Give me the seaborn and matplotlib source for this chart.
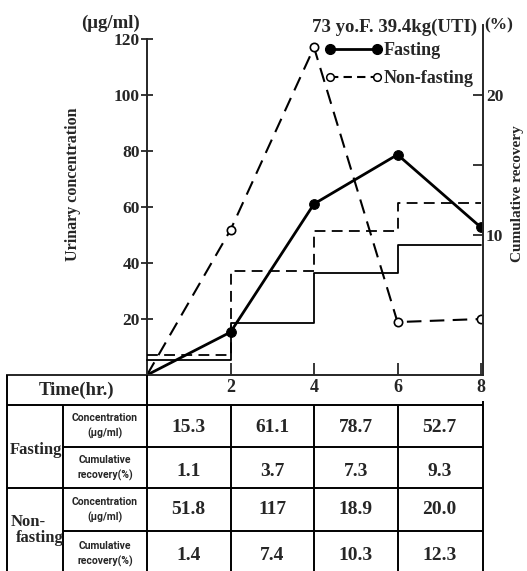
import matplotlib
matplotlib.use("Agg")
import matplotlib.pyplot as plt
import seaborn as sns
from matplotlib.lines import Line2D

# ---------------- data ----------------
time_hr = [0, 2, 4, 6, 8]
fasting_conc = [0, 15.3, 61.1, 78.7, 52.7]
nonfasting_conc = [0, 51.8, 117, 18.9, 20.0]
fasting_cum = [1.1, 3.7, 7.3, 9.3]
nonfasting_cum = [1.4, 7.4, 10.3, 12.3]

left_ticks = [20, 40, 60, 80, 100, 120]
right_ticks = [10, 20]
right_minor = [15]
x_ticks = [2, 4, 6, 8]

table_time_labels = ["2", "4", "6", "8"]
fasting_conc_txt = ["15.3", "61.1", "78.7", "52.7"]
fasting_cum_txt = ["1.1", "3.7", "7.3", "9.3"]
nonfasting_conc_txt = ["51.8", "117", "18.9", "20.0"]
nonfasting_cum_txt = ["1.4", "7.4", "10.3", "12.3"]

# ---------------- style ----------------
sns.set_style("ticks")
plt.rcParams["font.family"] = ["Liberation Serif", "DejaVu Serif"]
plt.rcParams["font.weight"] = "bold"
plt.rcParams["axes.linewidth"] = 1.4

W, H = 527, 571
fig = plt.figure(figsize=(W / 100, H / 100), dpi=100)

px_per_hr = 41.75
x0_px = 147
xl = ((7 - x0_px) / px_per_hr, (483 - x0_px) / px_per_hr)

ax = fig.add_axes([7 / W, (H - 375) / H, 476 / W, 350 / H])
ax.set_xlim(*xl)
ax.set_ylim(0, 125)

# concentration lines (left axis)
sns.lineplot(x=time_hr, y=fasting_conc, ax=ax, color="black", lw=2.0,
             marker="o", markersize=7, markevery=[1, 2, 3, 4],
             markerfacecolor="black", markeredgecolor="black")
sns.lineplot(x=time_hr, y=nonfasting_conc, ax=ax, color="black", lw=1.5,
             linestyle=(0, (7, 4)), marker="o", markersize=6,
             markevery=[1, 2, 3, 4], markerfacecolor="white",
             markeredgecolor="black", markeredgewidth=1.2)

for s in ["top", "right"]:
    ax.spines[s].set_visible(False)
ax.spines["left"].set_position(("data", 0))
ax.spines["left"].set_bounds(0, 120)
ax.set_yticks(left_ticks)
ax.set_yticklabels([str(t) for t in left_ticks])
ax.tick_params(axis="y", direction="inout", length=8, width=1.3,
               labelsize=12.5, pad=1)
ax.set_xticks(x_ticks)
ax.tick_params(axis="x", direction="in", length=9, width=1.3,
               labelbottom=False)
ax.set_ylabel("Urinary concentration", fontsize=11.5, fontweight="bold")
ax.yaxis.set_label_coords((81 - 7) / 476, (375 - 184) / 350)

# cumulative recovery steps (right axis)
ax2 = ax.twinx()
ax2.set_ylim(0, 25)
sns.lineplot(x=time_hr, y=fasting_cum + [fasting_cum[-1]], ax=ax2,
             color="black", lw=1.3, drawstyle="steps-post")
sns.lineplot(x=time_hr, y=nonfasting_cum + [nonfasting_cum[-1]], ax=ax2,
             color="black", lw=1.3, linestyle=(0, (6, 3.5)),
             drawstyle="steps-post")
for s in ["top", "left", "bottom"]:
    ax2.spines[s].set_visible(False)
ax2.set_yticks(right_ticks)
ax2.set_yticks(right_minor, minor=True)
ax2.set_yticklabels([str(t) for t in right_ticks])
ax2.tick_params(axis="y", which="both", direction="in", length=7,
                width=1.3, labelsize=12.5, pad=2)
ax2.set_ylabel("Cumulative recovery", fontsize=11, fontweight="bold")
ax2.yaxis.set_label_coords((511 - 7) / 476, (375 - 194) / 350)

handles = [
    Line2D([], [], color="black", lw=2.0, marker="o", markersize=7,
           markerfacecolor="black"),
    Line2D([], [], color="black", lw=1.5, linestyle=(0, (4, 2.5)),
           marker="o", markersize=5.5, markerfacecolor="white",
           markeredgewidth=1.1),
]
ax2.legend(handles, ["Fasting", "Non-fasting"], loc="upper left",
           bbox_to_anchor=(325 / W, 1 - 42 / H),
           bbox_transform=fig.transFigure, frameon=False, numpoints=2,
           handlelength=3.2, handletextpad=0.05, borderpad=0,
           borderaxespad=0, labelspacing=0.6,
           prop=dict(weight="bold", size=13))

fig.text(477 / W, 1 - 27 / H, "73 yo.F. 39.4kg(UTI)", ha="right",
         va="center", fontsize=13.5, fontweight="bold")
fig.text(484 / W, 1 - 25 / H, "(%)", ha="left", va="center",
         fontsize=12.5, fontweight="bold")
fig.text(111 / W, 1 - 23 / H, "(μg/ml)", ha="center", va="center",
         fontsize=13.5, fontweight="bold")

# ---------------- table ----------------
tab = fig.add_axes([7 / W, 0, 476 / W, 196 / H])
tab.set_xlim(*xl)
tab.set_ylim(196, 0)
tab.axis("off")

sub_x = (63 - x0_px) / px_per_hr
lkw = dict(color="black", lw=1.4, clip_on=False)
tab.hlines([30, 113], xl[0], xl[1], **lkw)
tab.hlines([72, 156], sub_x, xl[1], **lkw)
tab.vlines([xl[0], 0], 0, 196, **lkw)
tab.vlines([xl[1]], 26, 196, **lkw)
tab.vlines([sub_x] + x_ticks[:-1], 30, 196, **lkw)

tab.text((77 - x0_px) / px_per_hr, 15, "Time(hr.)", ha="center",
         va="center", fontsize=13.5, fontweight="bold")
for t, lab in zip(x_ticks, table_time_labels):
    tab.text(t, 12, lab, ha="center", va="center", fontsize=13,
             fontweight="bold")

tab.text((36 - x0_px) / px_per_hr, 75, "Fasting", ha="center",
         va="center", fontsize=12, fontweight="bold")
tab.text((11 - x0_px) / px_per_hr, 147, "Non-", ha="left",
         va="center", fontsize=12, fontweight="bold")
tab.text((40 - x0_px) / px_per_hr, 163, "fasting", ha="center",
         va="center", fontsize=12, fontweight="bold")

sub_c = (105 - x0_px) / px_per_hr
skw = dict(ha="center", va="center", fontsize=7.5, fontweight="bold",
           family=["Roboto", "DejaVu Sans"], linespacing=1.6)
tab.text(sub_c, 51, "Concentration\n(μg/ml)", **skw)
tab.text(sub_c, 93, "Cumulative\nrecovery(%)", **skw)
tab.text(sub_c, 135, "Concentration\n(μg/ml)", **skw)
tab.text(sub_c, 179, "Cumulative\nrecovery(%)", **skw)

cell_x = [1, 3, 5, 7]
vkw = dict(ha="center", va="center", fontsize=14, fontweight="bold")
for row_y, texts in zip([52, 97, 135, 180],
                        [fasting_conc_txt, fasting_cum_txt,
                         nonfasting_conc_txt, nonfasting_cum_txt]):
    for cx, s in zip(cell_x, texts):
        tab.text(cx, row_y, s, **vkw)

fig.savefig("out.png", dpi=100)
